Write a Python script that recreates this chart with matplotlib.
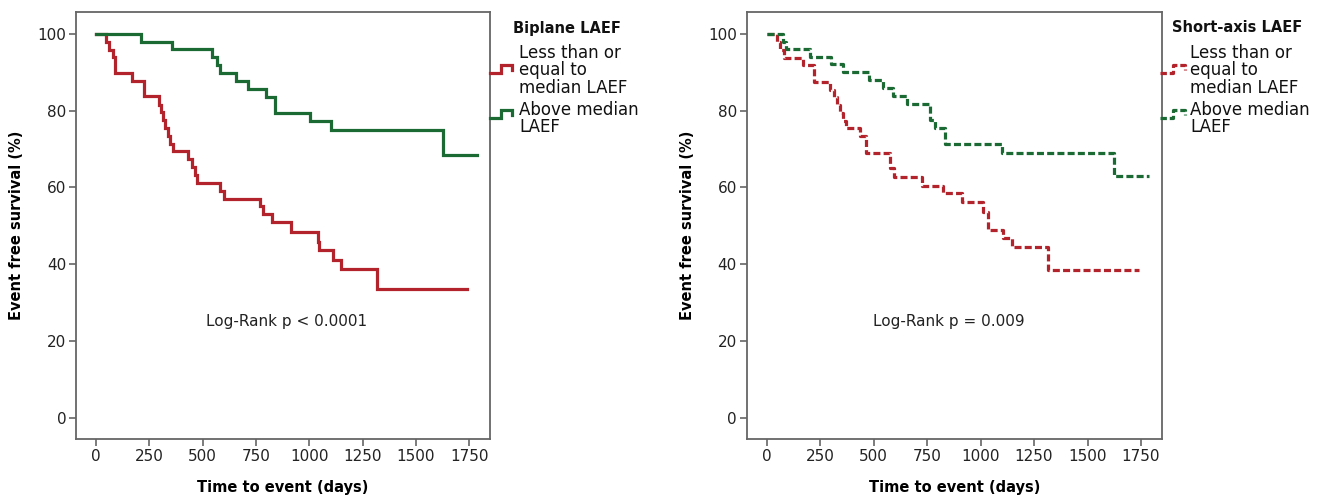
import matplotlib
matplotlib.use("Agg")
import matplotlib.pyplot as plt
from matplotlib.lines import Line2D

# ---------------- data ----------------
bi_low_t = [0, 47, 62, 78, 89, 167, 225, 295, 305, 315, 325, 335, 345, 362, 433, 452, 462, 475,
            581, 600, 769, 781, 827, 914, 1039, 1047, 1113, 1147, 1316, 1738]
bi_low_s = [100, 97.9, 95.9, 93.9, 89.8, 87.8, 83.7, 81.6, 79.6, 77.5, 75.5, 73.5, 71.4, 69.4, 67.3, 65.3, 63.3, 61.2,
            59.2, 57.1, 55.1, 53.1, 51.0, 48.5, 45.9, 43.6, 41.2, 38.8, 33.6, 33.6]

bi_high_t = [0, 209, 358, 542, 566, 581, 655, 711, 795, 839, 1003, 1100, 1625, 1784]
bi_high_s = [100, 98.0, 96.0, 93.9, 91.9, 89.9, 87.8, 85.7, 83.5, 79.4, 77.2, 75.0, 68.5, 68.5]

sa_low_t = [0, 47, 62, 82, 169, 223, 294, 313, 328, 341, 356, 372, 435, 466, 575, 595, 727, 825,
            914, 1010, 1036, 1106, 1145, 1314, 1739]
sa_low_s = [100, 97.9, 95.8, 93.8, 91.8, 87.6, 85.5, 83.5, 81.4, 79.4, 77.4, 75.4, 73.3, 68.9, 65.0, 62.8, 60.5, 58.5,
            56.1, 53.7, 49.0, 46.8, 44.4, 38.6, 38.6]

sa_high_t = [0, 75, 88, 203, 302, 356, 477, 544, 588, 658, 763, 788, 834, 1099, 1622, 1786]
sa_high_s = [100, 98.0, 96.0, 94.1, 92.1, 90.0, 88.0, 85.9, 83.8, 81.8, 77.6, 75.5, 71.4, 69.1, 63.0, 63.0]

x_ticks = [0, 250, 500, 750, 1000, 1250, 1500, 1750]
y_ticks = [0, 20, 40, 60, 80, 100]
legend_titles = ["Biplane LAEF", "Short-axis LAEF"]
legend_labels = ["Less than or\nequal to\nmedian LAEF", "Above median\nLAEF"]
pvals = ["Log-Rank p < 0.0001", "Log-Rank p = 0.009"]
xlabel = "Time to event (days)"
ylabel = "Event free survival (%)"

# ---------------- style ----------------
RED = "#b2232b"
GREEN = "#1b6a34"
SPINE = "#666666"
W, H = 1318, 497
plt.rcParams['font.family'] = ['DejaVu Sans']

fig = plt.figure(figsize=(W / 100, H / 100), dpi=100)


def fx(x):
    return x / W


def fy(y):
    return 1 - y / H


ax_top, ax_bot = 12, 439
axes_px = [(76, 490), (746.7, 1161.7)]
axes = []
for (l, r) in axes_px:
    ax = fig.add_axes([fx(l), fy(ax_bot), (r - l) / W, (ax_bot - ax_top) / H])
    ax.set_xlim(-94, 1847)
    ax.set_ylim(-5.5, 105.7)
    ax.set_xticks(x_ticks)
    ax.set_yticks(y_ticks)
    ax.tick_params(direction='out', length=5, width=1.2, color=SPINE, labelsize=11,
                   labelcolor='#222222', pad=2)
    for s in ax.spines.values():
        s.set_color(SPINE)
        s.set_linewidth(1.3)
    ax.set_xlabel(xlabel, fontsize=10.5, fontweight='bold')
    ax.set_ylabel(ylabel, fontsize=10.5, fontweight='bold')
    ax.xaxis.set_label_coords(0.5, -0.095)
    ax.yaxis.set_label_coords(-0.125, 0.5)
    axes.append(ax)

lw = 2.3
ax1, ax2 = axes
ax1.step(bi_low_t, bi_low_s, where='post', color=RED, lw=lw, solid_joinstyle='miter')
ax1.step(bi_high_t, bi_high_s, where='post', color=GREEN, lw=lw, solid_joinstyle='miter')
dash = (2.2, 1.0)
ax2.step(sa_low_t, sa_low_s, where='post', color=RED, lw=lw, dashes=dash)
ax2.step(sa_high_t, sa_high_s, where='post', color=GREEN, lw=lw, dashes=dash)

ax1.text(893, 25.1, pvals[0], ha='center', va='center', fontsize=11, color='#222222')
ax2.text(852, 25.1, pvals[1], ha='center', va='center', fontsize=11, color='#222222')

# ---------------- legends (outside axes) ----------------
leg_cfg = [
    dict(title_x=513, icon_x0=490, icon_x1=512, text_x=519, ls='-'),
    dict(title_x=1172, icon_x0=1160, icon_x1=1185, text_x=1190, ls='--'),
]
icon_y = [(73, 65, 70), (118, 110, 115)]
text_top = [44, 101]
colors = [RED, GREEN]
for k, cfg in enumerate(leg_cfg):
    fig.text(fx(cfg['title_x']), fy(28), legend_titles[k], fontsize=10.5, fontweight='bold',
             ha='left', va='center', color='#111111')
    for j in range(2):
        x0, x1 = cfg['icon_x0'], cfg['icon_x1']
        xm = (x0 + x1) / 2
        lo, hi, end = icon_y[j]
        xs = [x0, xm, xm, x1, x1]
        ys = [lo, lo, hi, hi, end]
        ln = Line2D([fx(v) for v in xs], [fy(v) for v in ys], transform=fig.transFigure,
                    color=colors[j], lw=lw, solid_joinstyle='miter')
        if cfg['ls'] == '--':
            ln.set_dashes((2.0, 0.9))
        fig.add_artist(ln)
        fig.text(fx(cfg['text_x']), fy(text_top[j]), legend_labels[j], fontsize=12,
                 ha='left', va='top', linespacing=0.95, color='#111111')

fig.savefig("out.png", dpi=100)
